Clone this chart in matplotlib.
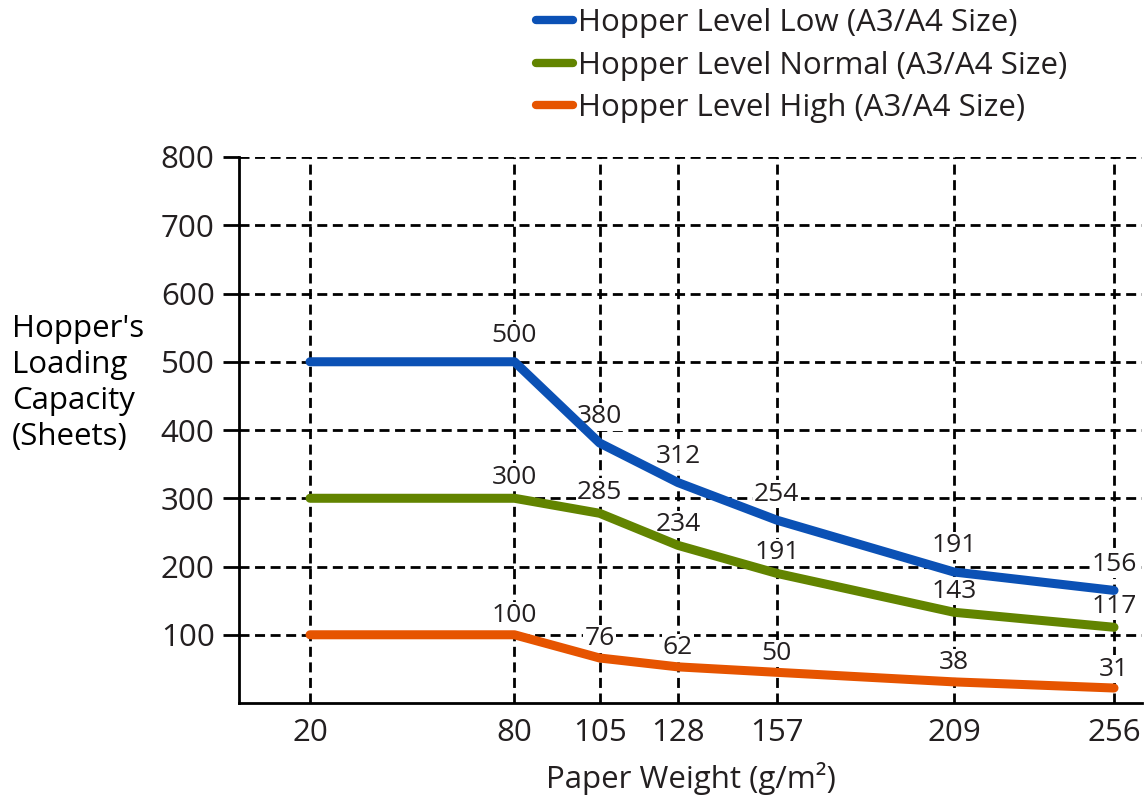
import matplotlib
matplotlib.use("Agg")
import matplotlib.pyplot as plt

plt.rcParams["font.family"] = ["Open Sans", "DejaVu Sans"]

weights = [20, 80, 105, 128, 157, 209, 256]
weight_labels = ["20", "80", "105", "128", "157", "209", "256"]

# where the curves are drawn
low_line = [500, 500, 381, 323, 268, 192, 165]
normal_line = [300, 300, 278, 231, 190, 133, 111]
high_line = [100, 100, 66, 53, 45, 31, 22]

# printed values next to the points
low_labels = ["500", "380", "312", "254", "191", "156"]
normal_labels = ["300", "285", "234", "191", "143", "117"]
high_labels = ["100", "76", "62", "50", "38", "31"]

series_names = [
    "Hopper Level Low (A3/A4 Size)",
    "Hopper Level Normal (A3/A4 Size)",
    "Hopper Level High (A3/A4 Size)",
]
colors = ["#0b51b5", "#628400", "#e65400"]
text_color = "#231f20"

fig = plt.figure(figsize=(11.47, 8.01), dpi=100)
ax = fig.add_axes([0.2084, 0.1223, 0.7872, 0.6817])

series = [
    (low_line, low_labels, 26),
    (normal_line, normal_labels, 21),
    (high_line, high_labels, 19),
]

for (vals, labels, off), color, name in zip(series, colors, series_names):
    ax.plot(weights, vals, color=color, lw=6.5, solid_capstyle="round",
            solid_joinstyle="round", label=name, zorder=3)
    for x, y, t in zip(weights[1:], vals[1:], labels):
        ax.annotate(t, (x, y), xytext=(0, off), textcoords="offset pixels",
                    ha="center", va="center", fontsize=19, color=text_color,
                    bbox=dict(boxstyle="square,pad=0.05", fc="white", ec="none"),
                    zorder=2.5)

ax.set_xlim(-0.84, 264.2)
ax.set_ylim(0, 800)
ax.set_xticks(weights)
ax.set_xticklabels(weight_labels)
ax.set_yticks(range(100, 801, 100))

ax.grid(True, color="black", linestyle=(0, (3.6, 2.0)), linewidth=2, zorder=1)

for s in ["top", "right"]:
    ax.spines[s].set_visible(False)
for s in ["left", "bottom"]:
    ax.spines[s].set_linewidth(2)
    ax.spines[s].set_color("black")

ax.tick_params(axis="y", direction="out", length=11.5, width=2, pad=6,
               labelsize=22.5, labelcolor=text_color)
ax.tick_params(axis="x", length=0, pad=11, labelsize=22.5, labelcolor=text_color)

ax.set_xlabel("Paper Weight (g/m²)", fontsize=22.5, color=text_color, labelpad=10)

fig.text(0.0105, 0.522, "Hopper's\nLoading\nCapacity\n(Sheets)", ha="left",
         va="center", fontsize=22.5, color="black", linespacing=1.27)

leg = fig.legend(loc="upper left", bbox_to_anchor=(0.467, 0.99), frameon=False,
                 fontsize=22.5, handlelength=1.2, handletextpad=0.15,
                 labelspacing=0.4, borderaxespad=0, borderpad=0)
for txt in leg.get_texts():
    txt.set_color(text_color)
for h in leg.get_lines():
    h.set_linewidth(6)
    h.set_solid_capstyle("round")

fig.savefig("out.png", dpi=100)
